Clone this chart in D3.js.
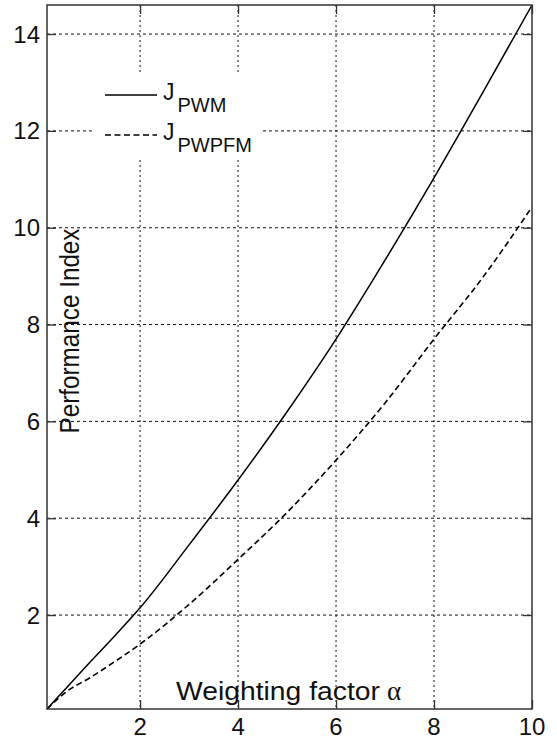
<!DOCTYPE html>
<html>
<head>
<meta charset="utf-8">
<script src="https://cdn.jsdelivr.net/npm/d3@7"></script>
<style>
  html, body { margin: 0; padding: 0; background: #fff; }
  svg { display: block; font-family: "Liberation Sans", Arial, sans-serif; }
</style>
</head>
<body>
<svg id="chart" width="557" height="740"></svg>
<script>
// ---- data ----
const alpha  = [0.1, 0.5, 1, 1.5, 2, 3, 4, 5, 6, 7, 8, 9, 10];
const jPWM   = [0.06, 0.5, 1.05, 1.59, 2.15, 3.45, 4.79, 6.2, 7.7, 9.33, 11.03, 12.8, 14.6];
const jPWPFM = [0.06, 0.42, 0.72, 1.05, 1.40, 2.22, 3.15, 4.12, 5.2, 6.38, 7.70, 8.98, 10.43];
const xTicks = [2, 4, 6, 8, 10];
const yTicks = [2, 4, 6, 8, 10, 12, 14];
const seriesNames = ["PWM", "PWPFM"];
const xLabel = "Weighting factor";
const yLabel = "Performance Index";

// ---- layout ----
const L = 47, R = 532, T = 5, B = 709;
const svg = d3.select("#chart");
const x = d3.scaleLinear().domain([0.1, 10]).range([L, R]);
const y = d3.scaleLinear().domain([0.06, 14.6]).range([B, T]);

// grid
const g = svg.append("g");
g.selectAll(".vg").data(xTicks.filter(d => d < 10)).join("line")
  .attr("x1", d => x(d)).attr("x2", d => x(d)).attr("y1", T).attr("y2", B)
  .attr("stroke", "#111").attr("stroke-width", 1).attr("stroke-dasharray", "2,3");
g.selectAll(".hg").data(yTicks).join("line")
  .attr("x1", L).attr("x2", R).attr("y1", d => y(d)).attr("y2", d => y(d))
  .attr("stroke", "#111").attr("stroke-width", 1).attr("stroke-dasharray", "3,3");

// curves
const line = d3.line().x(d => x(d[0])).y(d => y(d[1])).curve(d3.curveMonotoneX);
svg.append("path").datum(alpha.map((a, i) => [a, jPWM[i]]))
  .attr("d", line).attr("fill", "none").attr("stroke", "#000").attr("stroke-width", 1.5);
svg.append("path").datum(alpha.map((a, i) => [a, jPWPFM[i]]))
  .attr("d", line).attr("fill", "none").attr("stroke", "#000").attr("stroke-width", 1.6)
  .attr("stroke-dasharray", "6,3.5");

// axes box
const axCol = "#333";
svg.append("rect").attr("x", L).attr("y", T).attr("width", R - L).attr("height", B - T)
  .attr("fill", "none").attr("stroke", axCol).attr("stroke-width", 1.5);

// inward ticks via d3 axes
const tl = 9;
const axB = svg.append("g").attr("transform", `translate(0,${B})`)
  .call(d3.axisBottom(x).tickValues(xTicks).tickSize(-tl).tickFormat(""));
const axT = svg.append("g").attr("transform", `translate(0,${T})`)
  .call(d3.axisTop(x).tickValues(xTicks).tickSize(-tl).tickFormat(""));
const axL = svg.append("g").attr("transform", `translate(${L},0)`)
  .call(d3.axisLeft(y).tickValues(yTicks).tickSize(-tl).tickFormat(""));
const axRt = svg.append("g").attr("transform", `translate(${R},0)`)
  .call(d3.axisRight(y).tickValues(yTicks).tickSize(-tl).tickFormat(""));
[axB, axT, axL, axRt].forEach(a => {
  a.select(".domain").remove();
  a.selectAll("line").attr("stroke", axCol).attr("stroke-width", 1.3);
});

// tick labels
svg.append("g").selectAll("text").data(xTicks).join("text")
  .attr("x", d => x(d)).attr("y", 735).attr("text-anchor", "middle")
  .attr("font-size", 24).attr("fill", "#111").text(d => d);
svg.append("g").selectAll("text").data(yTicks).join("text")
  .attr("x", 40).attr("y", d => y(d) + 8.5).attr("text-anchor", "end")
  .attr("font-size", 24).attr("fill", "#111").text(d => d);

// axis labels
svg.append("text").attr("x", 176).attr("y", 700)
  .attr("font-size", 25).attr("fill", "#111")
  .attr("textLength", 204).attr("lengthAdjust", "spacingAndGlyphs").text(xLabel);
svg.append("text").attr("x", 387).attr("y", 700)
  .attr("font-size", 27).attr("font-family", "Liberation Serif, serif").attr("fill", "#111").text("α");

svg.append("text").attr("transform", "translate(79,331) rotate(-90) scale(1,1.15)")
  .attr("text-anchor", "middle").attr("font-size", 24).attr("fill", "#111")
  .attr("textLength", 205).attr("lengthAdjust", "spacingAndGlyphs").text(yLabel);

// legend
const lg = svg.append("g");
lg.append("rect").attr("x", 95).attr("y", 72).attr("width", 168).attr("height", 88).attr("fill", "#fff");
const legY = [95, 135];
const dashes = [null, "6,3.5"];
seriesNames.forEach((name, i) => {
  lg.append("line").attr("x1", 105).attr("x2", 157).attr("y1", legY[i]).attr("y2", legY[i])
    .attr("stroke", "#000").attr("stroke-width", 1.5).attr("stroke-dasharray", dashes[i]);
  const t = lg.append("text").attr("x", 163).attr("y", legY[i] + 5).attr("fill", "#111");
  t.append("tspan").attr("font-size", 23).text("J");
  t.append("tspan").attr("font-size", 20).attr("dx", 3).attr("dy", 12).text(name);
});
</script>
</body>
</html>
